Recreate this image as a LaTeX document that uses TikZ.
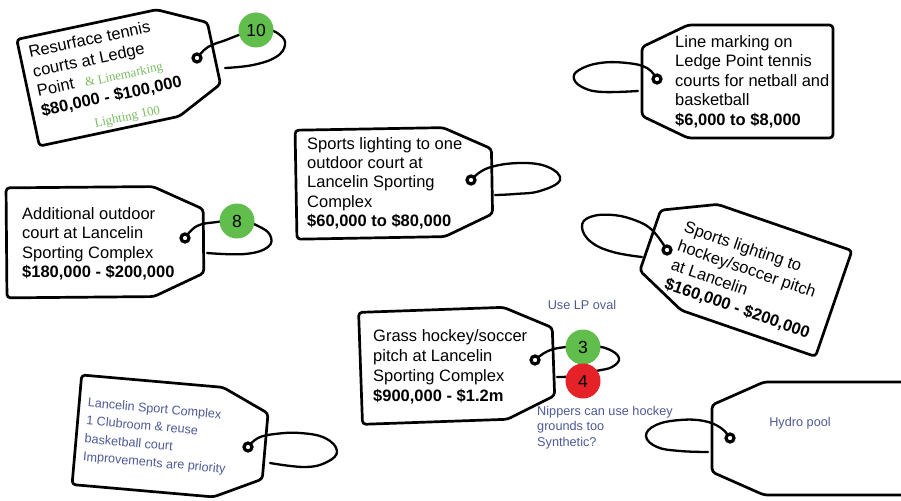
\documentclass[tikz,border=0pt]{standalone}
\usepackage{fontspec}
\setmainfont{Liberation Sans}
\newfontfamily\greenserif{Liberation Serif}
\definecolor{notecol}{RGB}{78,90,150}
\definecolor{lightgreen}{RGB}{120,188,98}
\definecolor{dotgreen}{RGB}{98,190,76}
\definecolor{dotred}{RGB}{228,34,40}
\newcommand\tagshapeR[4]{\draw[tagline] ({-#1/2},{-#2/2}) -- ({#1/2-#3},{-#2/2}) -- ({#1/2},{-#2/2+#4}) -- ({#1/2},{#2/2-#4}) -- ({#1/2-#3},{#2/2}) -- ({-#1/2},{#2/2}) -- cycle;}
\newcommand\tagshapeL[4]{\draw[tagline] ({#1/2},{-#2/2}) -- ({-#1/2+#3},{-#2/2}) -- ({-#1/2},{-#2/2+#4}) -- ({-#1/2},{#2/2-#4}) -- ({-#1/2+#3},{#2/2}) -- ({#1/2},{#2/2}) -- cycle;}
\tikzset{
  tagline/.style={draw=black, line width=2.7pt, rounded corners=3.5pt, fill=white, line join=round},
  stringline/.style={draw=black, line width=2.3pt, line cap=round},
  holering/.style={circle, draw=black, line width=3.2pt, minimum size=8pt, inner sep=0pt, fill=white},
  numdot/.style={circle, minimum size=35pt, inner sep=0pt, font=\fontsize{17.5}{20}\selectfont},
  tagtext/.style={anchor=north west, align=left, inner sep=0pt, font=\fontsize{16.5}{20}\selectfont},
  notetext/.style={inner sep=0pt, text=notecol, font=\fontsize{12.7}{15.5}\selectfont},
  greennote/.style={inner sep=0pt, text=lightgreen, font=\greenserif\fontsize{12.8}{14}\selectfont},
}
\begin{document}
\begin{tikzpicture}[x=1pt,y=-1pt]
\useasboundingbox (0,0) rectangle (901,500);
\clip (0,0) rectangle (901,500);
\fill[white] (0,0) rectangle (901,500);

% ---------- Tag 1 (top left)
\begin{scope}[shift={(121,73)}, rotate=12, transform shape]
  \tagshapeR{190}{109}{47}{23}
  \node[tagtext] (t1) at (-86,-46) {Resurface tennis\\courts at Ledge\\Point\hspace{11pt}{\greenserif\color{lightgreen}\fontsize{12.8}{14}\selectfont\& Linemarking}\\\textbf{\$80,000 - \$100,000}};
  \node[greennote] (t1b) at (-3,45) {Lighting 100};
\end{scope}
\coordinate (h1) at (197,58);
\draw[stringline] plot[smooth, tension=0.7] coordinates {(h1) (208,47) (226,40) (245,33) (265,29) (280,35) (285,45) (276,57) (253,65) (225,68)};
\node[holering] (hole1) at (h1) {};
\node[numdot, fill=dotgreen] (n10) at (256,30) {10};

% ---------- Tag 2 (top right)
\begin{scope}[shift={(737.5,81.5)}]
  \tagshapeL{191}{113}{46}{22}
\end{scope}
\node[tagtext, font=\fontsize{16.5}{19.5}\selectfont] (t2) at (675,35) {Line marking on\\Ledge Point tennis\\courts for netball and\\basketball\\\textbf{\$6,000 to \$8,000}};
\coordinate (h2) at (657,79);
\draw[stringline] plot[smooth, tension=0.7] coordinates {(h2) (647,68) (627,63) (600,63) (579,70) (574,79) (584,88) (603,92) (638,91)};
\node[holering] (hole2) at (h2) {};

% ---------- Tag 3 (middle)
\begin{scope}[shift={(394,183)}, rotate=1]
  \tagshapeR{196}{109}{48}{22}
\end{scope}
\node[tagtext, font=\fontsize{16.5}{19.3}\selectfont] (t3) at (307,137) {Sports lighting to one\\outdoor court at\\Lancelin Sporting\\Complex\\\textbf{\$60,000 to \$80,000}};
\coordinate (h3) at (471,180);
\draw[stringline] plot[smooth, tension=0.7] coordinates {(h3) (488,168) (520,163) (548,167) (560,180) (540,191) (515,194) (495,195)};
\node[holering] (hole3) at (h3) {};

% ---------- Tag 4 (left middle)
\begin{scope}[shift={(105,242)}, rotate=0.5]
  \tagshapeR{197}{110}{50}{23}
\end{scope}
\node[tagtext, font=\fontsize{16.5}{19.5}\selectfont] (t4) at (22,207) {Additional outdoor\\court at Lancelin\\Sporting Complex\\\textbf{\$180,000 - \$200,000}};
\coordinate (h4) at (185,238);
\draw[stringline] plot[smooth, tension=0.7] coordinates {(h4) (197,226) (217,222) (240,220) (258,226) (270,235) (268,247) (245,254) (207,253)};
\node[holering] (hole4) at (h4) {};
\node[numdot, fill=dotgreen] (n8) at (237,221) {8};

% ---------- Tag 5 (rotated right)
\begin{scope}[shift={(742,272)}, rotate=-19, transform shape]
  \tagshapeL{194}{112}{52}{24}
  \node[tagtext] (t5) at (-69,-31) {Sports lighting to\\hockey/soccer pitch\\at Lancelin\\\textbf{\$160,000 - \$200,000}};
\end{scope}
\coordinate (h5) at (667,250);
\draw[stringline] plot[smooth, tension=0.7] coordinates {(h5) (653,231) (637,221) (613,215) (590,217) (582,227) (591,242) (613,252) (642,257)};
\node[holering] (hole5) at (h5) {};

% ---------- Tag 6 (bottom centre)
\begin{scope}[shift={(457,365)}, rotate=2]
  \tagshapeR{193}{112}{48}{22}
\end{scope}
\node[tagtext, font=\fontsize{16.5}{20}\selectfont] (t6) at (373,329) {Grass hockey/soccer\\pitch at Lancelin\\Sporting Complex\\\textbf{\$900,000 - \$1.2m}};
\coordinate (h6) at (535,360);
\draw[stringline] plot[smooth, tension=0.7] coordinates {(h6) (548,351) (566,347) (590,346) (608,349) (619,358) (612,367) (596,371) (575,376) (557,377)};
\node[holering] (hole6) at (h6) {};
\node[numdot, fill=dotgreen] (n3) at (583,347) {3};
\node[numdot, fill=dotred] (n4) at (583,381) {4};
\node[notetext] (useLP) at (582,305) {Use LP oval};
\node[notetext, anchor=north west, align=left] (nippers) at (537,406) {Nippers can use hockey\\grounds too\\Synthetic?};

% ---------- Tag 7 (bottom left)
\begin{scope}[shift={(171,438)}, rotate=-5, transform shape]
  \tagshapeR{189}{110}{47}{22}
  \node[notetext, anchor=north west, align=left, font=\fontsize{12.6}{18}\selectfont] (t7) at (-86,-33) {Lancelin Sport Complex\\1 Clubroom \& reuse\\basketball court\\Improvements are priority};
\end{scope}
\coordinate (h7) at (248,447);
\draw[stringline] plot[smooth, tension=0.7] coordinates {(h7) (258,438) (275,434) (300,433) (325,438) (337,451) (327,462) (305,467) (270,463)};
\node[holering] (hole7) at (h7) {};

% ---------- Tag 8 (bottom right)
\begin{scope}[shift={(862,438.5)}]
  \tagshapeL{300}{113}{52}{23}
\end{scope}
\node[notetext] (t8) at (800,423) {Hydro pool};
\coordinate (h8) at (730,438);
\draw[stringline] plot[smooth, tension=0.7] coordinates {(h8) (721,428) (704,421) (680,420) (656,425) (646,436) (657,447) (680,451) (708,452)};
\node[holering] (hole8) at (h8) {};
\end{tikzpicture}
\end{document}
